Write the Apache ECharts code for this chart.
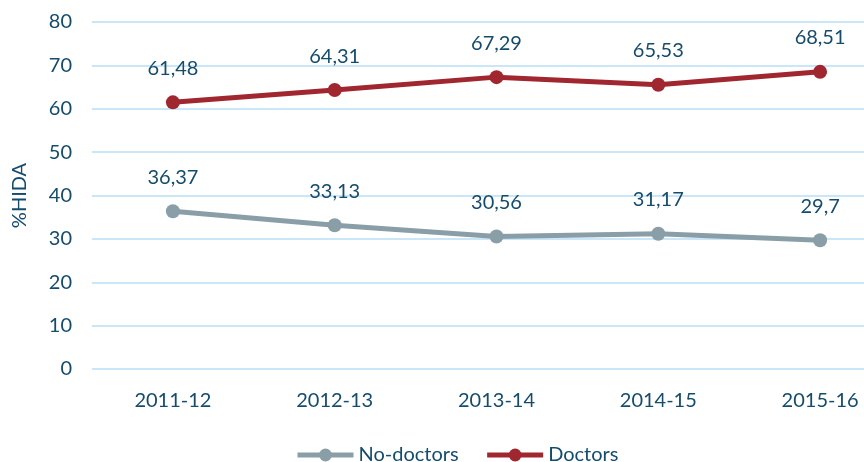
<!DOCTYPE html>
<html>
<head>
<meta charset="utf-8">
<script src="https://cdn.jsdelivr.net/npm/echarts@6/dist/echarts.min.js"></script>
<style>
html, body { margin: 0; padding: 0; background: #fff; overflow: hidden; }
#chart { width: 901px; height: 462px; }
</style>
</head>
<body>
<div id="chart"></div>
<script>
// chart data
var years = ['2011-12', '2012-13', '2013-14', '2014-15', '2015-16'];
var noDoctors = [36.37, 33.13, 30.56, 31.17, 29.7];
var doctors = [61.48, 64.31, 67.29, 65.53, 68.51];

var textColor = '#154C6C';
var font = 'Lato';
var fs = 20;

// the plot area runs past the right edge of the picture, so the div is wider than the window
var myChart = echarts.init(document.getElementById('chart'));

function labelFmt(p) {
    return String(p.value).replace('.', ',');
}

var option = {
    textStyle: { fontFamily: font },
    grid: { left: 92, right: 0, top: 22, bottom: 93 },
    legend: {
        data: ['No-doctors', 'Doctors'],
        top: 440,
        left: 290,
        itemWidth: 56,
        itemHeight: 16,
        itemGap: 26,
        lineStyle: { width: 5 },
        textStyle: { color: textColor, fontSize: fs, fontFamily: font }
    },
    xAxis: {
        type: 'category',
        data: years,
        axisLine: { show: false },
        axisTick: { show: false },
        axisLabel: { color: textColor, fontSize: fs, margin: 22 }
    },
    yAxis: {
        type: 'value',
        min: 0,
        max: 80,
        interval: 10,
        name: '%HIDA',
        nameLocation: 'middle',
        nameGap: 62,
        nameTextStyle: { color: textColor, fontSize: fs },
        axisLabel: { color: textColor, fontSize: fs, margin: 20 },
        splitLine: { lineStyle: { color: '#C9E7F8', width: 2 } }
    },
    series: [
        {
            name: 'No-doctors',
            type: 'line',
            data: noDoctors,
            symbol: 'circle',
            symbolSize: 14,
            lineStyle: { width: 5, color: '#8A9EA8' },
            itemStyle: { color: '#8A9EA8' },
            label: { show: true, position: 'top', distance: 17, color: textColor, fontSize: fs, formatter: labelFmt }
        },
        {
            name: 'Doctors',
            type: 'line',
            data: doctors,
            symbol: 'circle',
            symbolSize: 14,
            lineStyle: { width: 5, color: '#A0272F' },
            itemStyle: { color: '#A0272F' },
            label: { show: true, position: 'top', distance: 17, color: textColor, fontSize: fs, formatter: labelFmt }
        }
    ]
};

myChart.setOption(option);
</script>
</body>
</html>
